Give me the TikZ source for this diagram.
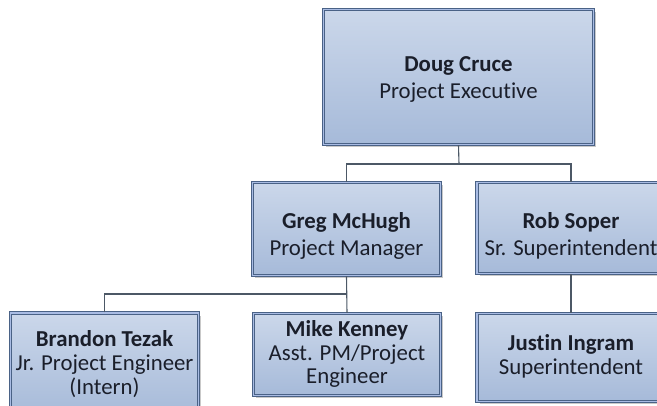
\documentclass[tikz,border=0pt]{standalone}
\usepackage{fontspec}
\setmainfont[Ligatures=NoCommon]{Carlito}
\usetikzlibrary{shadows}
\definecolor{boxline}{HTML}{4A6286}
\definecolor{boxgap}{HTML}{A9BCE4}
\definecolor{filltop}{HTML}{CBD7EA}
\definecolor{fillbot}{HTML}{A6BAD9}
\definecolor{connline}{HTML}{4C5866}
\definecolor{ink}{HTML}{1A1E2A}
\tikzset{
  orgbox/.style={rectangle, draw=boxline, line width=1.1pt, double=boxgap,
    double distance=1.6pt, top color=filltop, bottom color=fillbot,
    drop shadow={shadow xshift=2.5pt, shadow yshift=-2.5pt, opacity=0.35, fill=black!60},
    inner sep=0pt},
  orgtext/.style={align=center, text=ink, inner sep=0pt,
    font=\fontsize{22.8}{26.5}\selectfont},
  orgtextb/.style={orgtext, font=\fontsize{22.8}{23.8}\selectfont},
  conn/.style={draw=connline, line width=1.1pt}
}
\begin{document}
\begin{tikzpicture}[x=1pt, y=-1pt]
  \path[use as bounding box, fill=white] (0,0) rectangle (657,405);
  \clip (0,0) rectangle (657,405);

  % boxes
  \node[orgbox, minimum width=270pt, minimum height=135pt] (doug) at (458.5,77) {};
  \node[orgbox, minimum width=188pt, minimum height=93pt] (greg) at (346.5,229) {};
  \node[orgbox, minimum width=188pt, minimum height=91pt] (rob) at (571,228) {};
  \node[orgbox, minimum width=188pt, minimum height=104pt] (brandon) at (104.5,365) {};
  \node[orgbox, minimum width=187pt, minimum height=82pt] (mike) at (347,354.5) {};
  \node[orgbox, minimum width=188pt, minimum height=88pt] (justin) at (571,357.5) {};

  % labels
  \node[orgtext] (doug-t) at (458.5,79.5) {\textbf{Doug Cruce}\\Project Executive};
  \node[orgtext] (greg-t) at (346.5,236) {\textbf{Greg McHugh}\\Project Manager};
  \node[orgtext] (rob-t) at (571,236) {\textbf{Rob Soper}\\Sr. Superintendent};
  \node[orgtextb] (brandon-t) at (104.5,364) {\textbf{Brandon Tezak}\\Jr. Project Engineer\\(Intern)};
  \node[orgtextb] (mike-t) at (347,354) {\textbf{Mike Kenney}\\Asst. PM/Project\\Engineer};
  \node[orgtextb] (justin-t) at (571,356) {\textbf{Justin Ingram}\\Superintendent};

  % connectors
  \coordinate (bus1) at (459,164);
  \coordinate (bus2) at (347,294);
  \draw[conn] (doug.south) -- (bus1);
  \draw[conn] (greg.north) |- (bus1) -| (rob.north);
  \draw[conn] (greg.south) -- (mike.north);
  \draw[conn] (brandon.north) |- (bus2);
  \draw[conn] (rob.south) -- (justin.north);
\end{tikzpicture}
\end{document}
